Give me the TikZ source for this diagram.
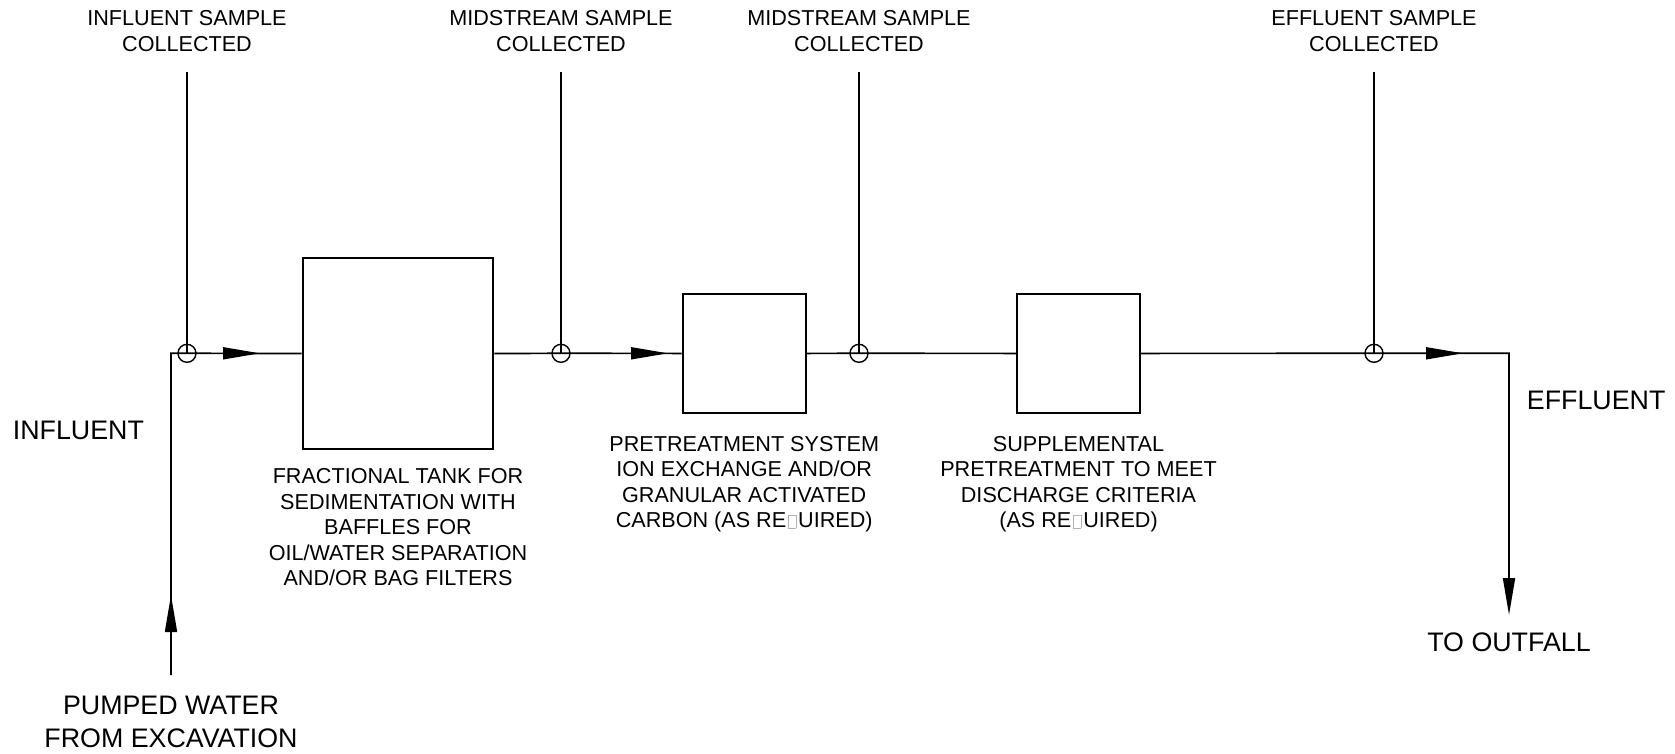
\documentclass[tikz,border=0pt]{standalone}
\usepackage{fontspec}
\setmainfont{Liberation Sans}
\usetikzlibrary{arrows.meta,positioning}
\newcommand{\qbox}{\hspace{2pt}\textcolor{gray!60}{\fboxsep=0pt\fboxrule=0.7pt\fbox{\rule{0pt}{12.6pt}\rule{6.6pt}{0pt}}}\hspace{2pt}}

\begin{document}
\begin{tikzpicture}[x=1pt, y=-1pt,
    pipe/.style={line width=1.7pt},
    probe/.style={line width=1.3pt},
    flowtip/.style={-{Triangle[length=37pt,width=12pt]}},
    tap/.style={circle, draw, line width=1.4pt, minimum size=18pt, inner sep=0pt},
    unit/.style={draw, line width=2pt, inner sep=0pt},
    note/.style={align=center, inner sep=0pt, font=\fontsize{21.6}{25.6}\selectfont},
    big/.style={align=center, inner sep=0pt, font=\fontsize{26.8}{33}\selectfont}]
    \useasboundingbox (0,0) rectangle (1675,753);
    % treatment units
    \node[unit, minimum width=190.6pt, minimum height=191.6pt] (tank) at (398,353.5) {};
    \node[unit, minimum width=123pt, minimum height=118.7pt] (ionx) at (744.2,353.4) {};
    \node[unit, minimum width=123pt, minimum height=118.7pt] (supp) at (1078.5,353.4) {};
    % sample taps
    \node[tap] (t1) at (187,353.3) {};
    \node[tap] (t2) at (561,353.3) {};
    \node[tap] (t3) at (859,353.3) {};
    \node[tap] (t4) at (1374,353.3) {};
    % pipe ends and bends
    \coordinate (inlet) at (171,675);
    \coordinate (bend1) at (171,353.3);
    \coordinate (bend2) at (1509,353.3);
    \coordinate (outlet) at (1509,615);
    % flow line
    \draw[pipe] (inlet) -- (bend1) -- (t1.center) -- (tank.west);
    \draw[pipe] (tank.east) -- (t2.center) -- (ionx.west);
    \draw[pipe] (ionx.east) -- (t3.center) -- (supp.west);
    \draw[pipe, flowtip] (supp.east) -- (t4.center) -- (bend2) -- (outlet);
    % arrows along the line
    \coordinate (a0) at (171,632);  \coordinate (a0tip) at (171,595);
    \coordinate (a1) at (223,353.3); \coordinate (a1tip) at (260,353.3);
    \coordinate (a2) at (631,353.3); \coordinate (a2tip) at (668,353.3);
    \coordinate (a4) at (1426,353.3); \coordinate (a4tip) at (1463,353.3);
    \draw[pipe, flowtip] (a0) -- (a0tip);
    \draw[pipe, flowtip] (a1) -- (a1tip);
    \draw[pipe, flowtip] (a2) -- (a2tip);
    \draw[pipe, flowtip] (a4) -- (a4tip);
    % sample lines
    \coordinate (s1) at (187,72);
    \coordinate (s2) at (561,72);
    \coordinate (s3) at (859,72);
    \coordinate (s4) at (1374,72);
    \draw[probe] (s1) -- (t1.center);
    \draw[probe] (s2) -- (t2.center);
    \draw[probe] (s3) -- (t3.center);
    \draw[probe] (s4) -- (t4.center);
    \node[note, anchor=north] (l1) at (187,10.7) {INFLUENT SAMPLE\\COLLECTED};
    \node[note, anchor=north] (l2) at (561,10.7) {MIDSTREAM SAMPLE\\COLLECTED};
    \node[note, anchor=north] (l3) at (859,10.7) {MIDSTREAM SAMPLE\\COLLECTED};
    \node[note, anchor=north] (l4) at (1374,10.7) {EFFLUENT SAMPLE\\COLLECTED};
    % unit labels
    \node[note, below=18pt of tank] (tanktxt) {FRACTIONAL TANK FOR\\SEDIMENTATION WITH\\BAFFLES FOR\\OIL/WATER SEPARATION\\AND/OR BAG FILTERS};
    \node[note, below=22pt of ionx] (ionxtxt) {PRETREATMENT SYSTEM\\ION EXCHANGE AND/OR\\GRANULAR ACTIVATED\\CARBON (AS RE\qbox UIRED)};
    \node[note, below=22pt of supp] (supptxt) {SUPPLEMENTAL\\PRETREATMENT TO MEET\\DISCHARGE CRITERIA\\(AS RE\qbox UIRED)};
    % stream labels
    \node[big, anchor=north west] (infl) at (12.7,420.7) {INFLUENT};
    \node[big, anchor=north west] (effl) at (1526.7,391) {EFFLUENT};
    \node[big, below=20.7pt of inlet] (pump) {PUMPED WATER\\FROM EXCAVATION};
    \node[big, below=17.5pt of outlet] (fall) {TO OUTFALL};
\end{tikzpicture}
\end{document}
